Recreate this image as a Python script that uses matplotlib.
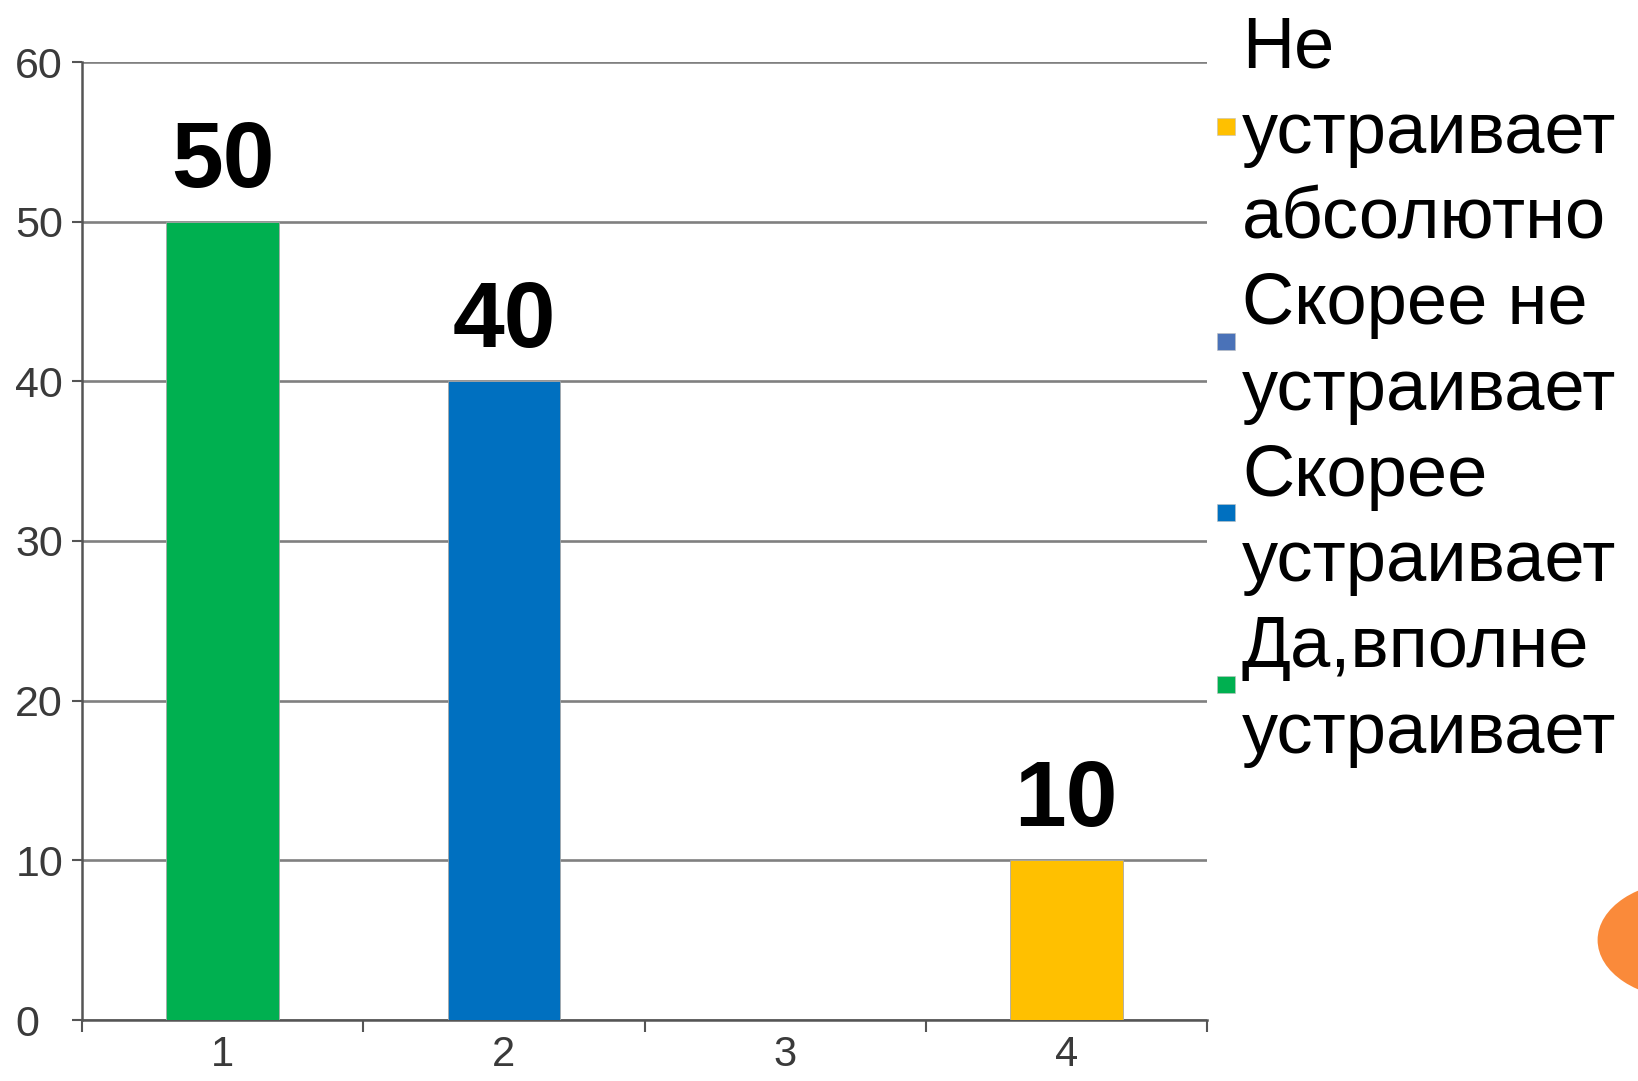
import matplotlib
matplotlib.use("Agg")
import matplotlib.pyplot as plt
from matplotlib.patches import Rectangle, Circle
from matplotlib.ticker import FixedLocator

# ---- data ----
categories = ["1", "2", "3", "4"]
values = [50, 40, 0, 10]
bar_colors = ["#00B050", "#0070C0", "#4A72B8", "#FFC000"]
y_ticks = [0, 10, 20, 30, 40, 50, 60]
legend_labels = ["Не\nустраивает\nабсолютно", "Скорее не\nустраивает",
                 "Скорее\nустраивает", "Да,вполне\nустраивает"]
legend_colors = ["#FFC000", "#4A72B8", "#0070C0", "#00B050"]

plt.rcParams['font.family'] = ['Liberation Sans', 'DejaVu Sans']

W, H = 1638, 1081
fig = plt.figure(figsize=(W / 100, H / 100), dpi=100)

def fx(px):
    return px / W

def fy(py):
    return 1 - py / H

ax_l, ax_r, ax_t, ax_b = 82, 1207, 62, 1020
ax = fig.add_axes([fx(ax_l), fy(ax_b), fx(ax_r - ax_l), (ax_b - ax_t) / H])

x = list(range(len(categories)))
bars = ax.bar(x, values, width=0.4, color=bar_colors, edgecolor="#A8A8A8",
              linewidth=0.6, zorder=3)

for xi, v in zip(x, values):
    if v > 0:
        ax.annotate(str(v), xy=(xi, v), xytext=(0, 25), textcoords="offset points",
                    ha="center", va="baseline", fontsize=67, fontweight="bold",
                    color="black", zorder=4)

ax.set_xlim(-0.5, len(categories) - 0.5)
ax.set_ylim(0, 60)
ax.set_yticks(y_ticks)
ax.set_yticklabels([str(t) for t in y_ticks])
ax.yaxis.grid(True, color="#808080", linewidth=1.9, zorder=1)
ax.set_axisbelow(True)

ax.set_xticks(x)
ax.set_xticklabels(categories)
ax.xaxis.set_minor_locator(FixedLocator([i - 0.5 for i in range(len(categories) + 1)]))
ax.tick_params(axis="x", which="major", length=0, pad=11, labelsize=30, labelcolor="#3A3A3A")
ax.tick_params(axis="x", which="minor", length=8.5, width=1.5, color="#555555", direction="out")
ax.tick_params(axis="y", which="major", length=7, width=1.5, color="#555555",
               pad=41, labelsize=31, labelcolor="#3A3A3A")
for lbl in ax.get_yticklabels():
    lbl.set_horizontalalignment("left")

for s in ["top", "right"]:
    ax.spines[s].set_visible(False)
for s in ["left", "bottom"]:
    ax.spines[s].set_color("#555555")
    ax.spines[s].set_linewidth(1.8)

# ---- legend (manual layout) ----
line_step = 85.75
first_baseline = 67
text_x = 1242
line_idx = 0
for lab, col in zip(legend_labels, legend_colors):
    lines = lab.split("\n")
    baselines = []
    for ln in lines:
        b = first_baseline + line_idx * line_step
        baselines.append(b)
        fig.text(fx(text_x), fy(b), ln, fontsize=52, ha="left", va="baseline", color="black")
        line_idx += 1
    yc = sum(baselines) / len(baselines) - 26
    fig.patches.append(Rectangle((fx(1217), fy(yc + 8.5)), fx(18), 17 / H,
                                 transform=fig.transFigure, facecolor=col,
                                 edgecolor="#C0C0C0", linewidth=0.4))

# decorative orange circle at bottom-right
fig.patches.append(Circle((fx(1687), fy(940)), 59 / H, transform=fig.transFigure,
                          facecolor="#FA8A3A", edgecolor="none"))

fig.savefig("out.png", dpi=100)
